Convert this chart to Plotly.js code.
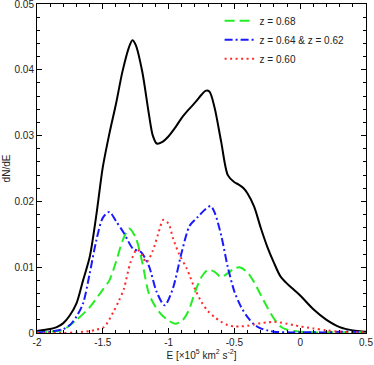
<!DOCTYPE html>
<html>
<head>
<meta charset="utf-8">
<script src="https://cdn.plot.ly/plotly-3.0.1.min.js"></script>
<style>
  body { margin: 0; padding: 0; background: #fff; }
  #chart { width: 374px; height: 365px; }
</style>
</head>
<body>
<div id="chart"></div>
<script>
// energy distributions
var E_all = [-2.0, -1.9, -1.85, -1.8, -1.75, -1.7, -1.65, -1.6, -1.55, -1.5, -1.45, -1.4, -1.35, -1.3, -1.275, -1.25, -1.2, -1.15, -1.12, -1.09, -1.05, -1.0, -0.95, -0.9, -0.85, -0.8, -0.75, -0.72, -0.69, -0.65, -0.6, -0.55, -0.5, -0.47, -0.43, -0.4, -0.35, -0.3, -0.25, -0.2, -0.15, -0.1, -0.05, 0.0, 0.1, 0.2, 0.3, 0.4, 0.5];
var N_all = [0.0003, 0.0006, 0.0009, 0.0015, 0.0027, 0.0045, 0.0080, 0.0115, 0.0178, 0.0252, 0.0303, 0.0348, 0.0398, 0.0435, 0.0445, 0.0438, 0.0397, 0.0333, 0.0300, 0.0288, 0.0290, 0.0299, 0.0312, 0.0327, 0.0339, 0.0350, 0.0362, 0.0368, 0.0367, 0.0342, 0.0290, 0.0240, 0.0229, 0.0226, 0.0220, 0.0212, 0.0192, 0.0160, 0.0131, 0.0107, 0.0086, 0.0075, 0.0066, 0.0057, 0.0036, 0.0020, 0.0009, 0.0004, 0.0002];

var E_68 = [-2.0, -1.9, -1.8, -1.7, -1.6, -1.5, -1.45, -1.4, -1.35, -1.3, -1.25, -1.2, -1.15, -1.1, -1.05, -1.0, -0.95, -0.9, -0.85, -0.8, -0.75, -0.7, -0.65, -0.6, -0.55, -0.5, -0.46, -0.4, -0.35, -0.3, -0.25, -0.2, -0.15, -0.1, -0.05, 0.0, 0.1, 0.2, 0.3, 0.4, 0.5];
var N_68 = [0.0001, 0.0002, 0.0005, 0.0020, 0.0039, 0.0066, 0.0080, 0.0108, 0.0140, 0.0159, 0.0145, 0.0107, 0.0060, 0.0040, 0.0027, 0.0019, 0.0014, 0.0018, 0.0033, 0.0062, 0.0085, 0.0096, 0.0093, 0.0085, 0.0091, 0.0098, 0.0100, 0.0092, 0.0077, 0.0058, 0.0039, 0.0022, 0.0010, 0.0005, 0.0003, 0.0002, 0.0001, 0.0001, 0.0001, 0.0001, 0.0001];

var E_64 = [-2.0, -1.9, -1.8, -1.75, -1.7, -1.65, -1.6, -1.55, -1.5, -1.45, -1.4, -1.34, -1.27, -1.21, -1.15, -1.09, -1.03, -0.97, -0.9, -0.84, -0.78, -0.72, -0.68, -0.65, -0.6, -0.55, -0.5, -0.45, -0.4, -0.35, -0.3, -0.25, -0.2, -0.1, 0.0, 0.1, 0.2, 0.3, 0.4, 0.5];
var N_64 = [0.0001, 0.0002, 0.0006, 0.0012, 0.0025, 0.0045, 0.0090, 0.0140, 0.0175, 0.0184, 0.0170, 0.0152, 0.0128, 0.0123, 0.0102, 0.0062, 0.0042, 0.0066, 0.0123, 0.0163, 0.0176, 0.0188, 0.0193, 0.0183, 0.0148, 0.0100, 0.0063, 0.0040, 0.0024, 0.0013, 0.0007, 0.0004, 0.0002, 0.0001, 0.0001, 0.0001, 0.0001, 0.0002, 0.0002, 0.0001];

var E_60 = [-2.0, -1.8, -1.7, -1.6, -1.55, -1.49, -1.42, -1.38, -1.34, -1.29, -1.24, -1.2, -1.17, -1.12, -1.08, -1.04, -1.0, -0.965, -0.92, -0.86, -0.8, -0.75, -0.7, -0.65, -0.6, -0.55, -0.5, -0.45, -0.4, -0.35, -0.3, -0.25, -0.2, -0.15, -0.1, -0.05, 0.0, 0.1, 0.2, 0.3, 0.4, 0.5];
var N_60 = [0.0, 0.0, 0.0001, 0.0003, 0.0005, 0.0009, 0.0032, 0.0048, 0.0067, 0.0107, 0.0127, 0.0118, 0.0107, 0.0125, 0.0150, 0.0172, 0.0166, 0.0143, 0.0120, 0.0097, 0.0067, 0.0047, 0.0033, 0.0024, 0.0017, 0.0012, 0.0010, 0.0010, 0.0011, 0.0013, 0.0015, 0.0016, 0.0017, 0.0016, 0.0014, 0.0012, 0.0010, 0.0007, 0.0004, 0.0002, 0.0001, 0.0001];

var xTicks = [-2, -1.5, -1, -0.5, 0, 0.5];
var xTickText = ['-2', '-1.5', '-1', '-0.5', '0', '0.5'];
var yTicks = [0, 0.01, 0.02, 0.03, 0.04, 0.05];
var yTickText = ['0', '0.01', '0.02', '0.03', '0.04', '0.05'];

var fontFam = '"Liberation Sans", Arial, Helvetica, sans-serif';

var traces = [
  {
    x: E_all, y: N_all, mode: 'lines', type: 'scatter', showlegend: false,
    line: { color: '#000000', width: 2, shape: 'spline', smoothing: 0.8 }
  },
  {
    x: E_68, y: N_68, mode: 'lines', type: 'scatter', name: 'z = 0.68',
    line: { color: '#22ee22', width: 2, dash: '10px,5px', shape: 'spline', smoothing: 0.8 }
  },
  {
    x: E_64, y: N_64, mode: 'lines', type: 'scatter', name: 'z = 0.64 &amp; z = 0.62',
    line: { color: '#1a1aff', width: 2, dash: '8px,3px,2px,3px', shape: 'spline', smoothing: 0.8 }
  },
  {
    x: E_60, y: N_60, mode: 'lines', type: 'scatter', name: 'z = 0.60',
    line: { color: '#ff2a2a', width: 2, dash: '2px,3.5px', shape: 'spline', smoothing: 0.8 }
  }
];

var axisCommon = {
  showgrid: false,
  zeroline: false,
  showline: true,
  linecolor: '#000',
  linewidth: 1,
  mirror: 'allticks',
  ticks: 'inside',
  ticklen: 5,
  tickwidth: 1,
  tickcolor: '#000',
  ticklabeloverflow: 'allow',
  tickfont: { family: fontFam, size: 10, color: '#222' }
};

var layout = {
  width: 374,
  height: 365,
  margin: { l: 37, r: 8, t: 4, b: 32 },
  paper_bgcolor: '#fff',
  plot_bgcolor: '#fff',
  font: { family: fontFam, size: 10, color: '#222' },
  showlegend: true,
  legend: {
    x: 0.555, y: 0.993, xanchor: 'left', yanchor: 'top',
    bgcolor: 'rgba(0,0,0,0)',
    font: { family: fontFam, size: 10, color: '#222' }
  },
  xaxis: Object.assign({}, axisCommon, {
    range: [-2, 0.5],
    tickvals: xTicks,
    ticktext: xTickText,
    minor: { dtick: 0.1, ticks: 'inside', ticklen: 3, tickcolor: '#000' },
    title: { text: 'E [×10<sup>5</sup> km<sup>2</sup> s<sup>-2</sup>]', standoff: 4, font: { family: fontFam, size: 10, color: '#222' } }
  }),
  yaxis: Object.assign({}, axisCommon, {
    range: [0, 0.05],
    tickvals: yTicks,
    ticktext: yTickText,
    minor: { dtick: 0.002, ticks: 'inside', ticklen: 3, tickcolor: '#000' },
    title: { text: 'dN/dE', standoff: 2, font: { family: fontFam, size: 10, color: '#222' } }
  })
};

Plotly.newPlot('chart', traces, layout, { displayModeBar: false, staticPlot: true });
</script>
</body>
</html>
